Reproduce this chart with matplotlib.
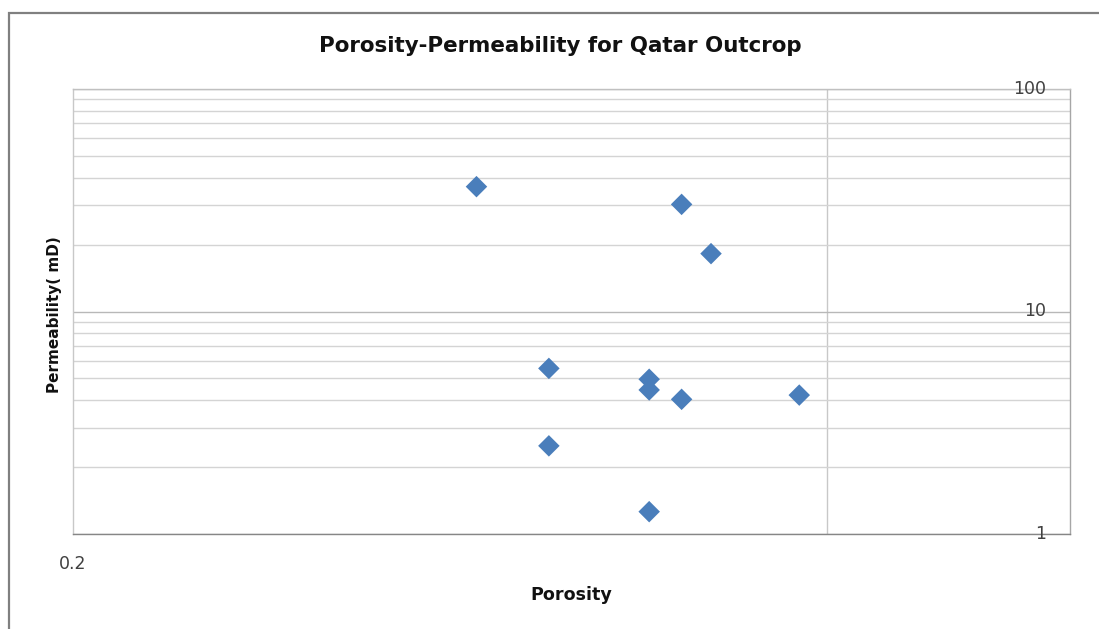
import numpy as np
import matplotlib
matplotlib.use("Agg")
import matplotlib.pyplot as plt
from matplotlib.patches import Rectangle
from matplotlib.ticker import LogLocator, NullFormatter, FixedLocator

# Datos
porosidad = [0.2535, 0.2807, 0.2846, 0.2631, 0.2764, 0.2764, 0.2807, 0.2963, 0.2631, 0.2764]
permeabilidad = [36.4, 30.3, 18.2, 5.55, 4.96, 4.44, 4.03, 4.21, 2.49, 1.26]

x_lim = (0.2, 0.3322)
y_lim = (1, 100)
x_grid = [0.3]
y_labels = [1, 10, 100]

plt.rcParams['font.family'] = ['DejaVu Sans']

fig = plt.figure(figsize=(10.99, 6.29), dpi=100)
ax = fig.add_axes([73 / 1099, 95 / 629, 997 / 1099, 445 / 629])

# Borde exterior del gráfico
fig.patches.append(Rectangle((9 / 1099, -0.1), 1.5, 0.1 + 1 - 13 / 629,
                             transform=fig.transFigure, fill=False,
                             edgecolor='#808080', linewidth=1.6))

ax.scatter(porosidad, permeabilidad, marker='D', s=120, color='#4A7EBB',
           edgecolors='none', zorder=3)

ax.set_yscale('log')
ax.set_xlim(*x_lim)
ax.set_ylim(*y_lim)

# Rejilla
ax.yaxis.set_major_locator(LogLocator(base=10))
ax.yaxis.set_minor_locator(LogLocator(base=10, subs=np.arange(2, 10)))
ax.yaxis.set_major_formatter(NullFormatter())
ax.yaxis.set_minor_formatter(NullFormatter())
ax.grid(True, axis='y', which='major', color='#b8b8b8', linewidth=1.0)
ax.grid(True, axis='y', which='minor', color='#d4d4d4', linewidth=1.0)
for xv in x_grid:
    ax.axvline(xv, color='#c8c8c8', linewidth=1.0, zorder=1)

ax.tick_params(axis='y', which='both', left=False, right=False, labelleft=False)
ax.xaxis.set_major_locator(FixedLocator([0.2]))
ax.set_xticklabels(['0.2'])
ax.tick_params(axis='x', bottom=False, pad=11.5, labelsize=12.5, labelcolor='#404040')

# Etiquetas del eje y dentro del área (lado derecho)
for v in y_labels:
    ax.text(0.976, v, str(v), transform=ax.get_yaxis_transform(),
            ha='right', va='center', fontsize=12.5, color='#404040')

for side, c in [('left', '#c8c8c8'), ('top', '#c0c0c0'),
                ('right', '#a6a6a6'), ('bottom', '#868686')]:
    ax.spines[side].set_color(c)
    ax.spines[side].set_linewidth(1.0)

fig.text(560.5 / 1099, 1 - 46 / 629, 'Porosity-Permeability for Qatar Outcrop',
         ha='center', va='center', fontsize=15.4, fontweight='bold', color='#111111')
fig.text(571.5 / 1099, 1 - 595 / 629, 'Porosity', ha='center', va='center',
         fontsize=12.6, fontweight='bold', color='#111111')
fig.text(55 / 1099, 1 - 315 / 629, 'Permeability( mD)', ha='center', va='center',
         rotation=90, fontsize=11, fontweight='bold', color='#111111')

fig.savefig('out.png', dpi=100)
